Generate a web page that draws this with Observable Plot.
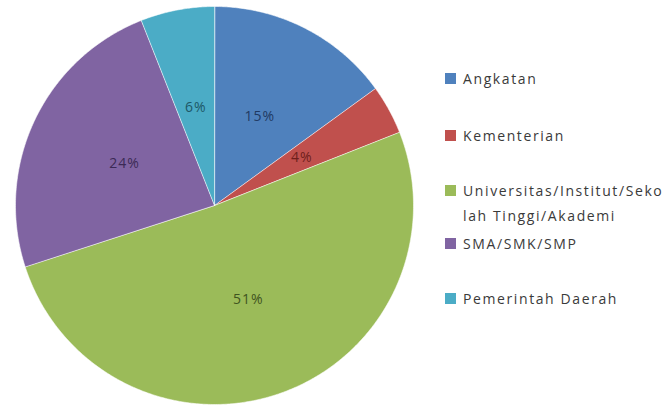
<!DOCTYPE html>
<html>
<head>
<meta charset="utf-8">
<script src="https://cdn.jsdelivr.net/npm/d3@7"></script>
<script src="https://cdn.jsdelivr.net/npm/@observablehq/plot@0.6"></script>
<style>
  html, body { margin: 0; padding: 0; background: #fff; }
  #wrap { position: relative; width: 670px; height: 406px; overflow: hidden; }
  #wrap svg text { letter-spacing: 1px; }
  #legend { position: absolute; left: 445px; top: 0; font-family: "Open Sans", sans-serif; font-size: 14px; color: #3a3a3a; }
  .item { position: absolute; left: 0; white-space: pre; line-height: 25px; letter-spacing: 1.6px; }
  .sw { position: absolute; left: 0; top: 7px; width: 11px; height: 11px; }
  .tx { position: absolute; left: 18px; top: 0; }
</style>
</head>
<body>
<div id="wrap"><div id="legend"></div></div>
<script>
// ---- data ----
const categories = ["Angkatan", "Kementerian", "Universitas/Institut/Sekolah Tinggi/Akademi", "SMA/SMK/SMP", "Pemerintah Daerah"];
const values = [15, 4, 51, 24, 6];
const valueLabels = ["15%", "4%", "51%", "24%", "6%"];
const legendLabels = ["Angkatan", "Kementerian", "Universitas/Institut/Seko\nlah Tinggi/Akademi", "SMA/SMK/SMP", "Pemerintah Daerah"];

// ---- styles ----
const sliceColors = ["#4f81bd", "#c0504d", "#9bbb59", "#8064a2", "#4bacc6"];
const labelColors = ["#1f3a63", "#6e1f1c", "#3f5420", "#3b2a55", "#1d5866"];
const legendTops = [65.5, 122.5, 177.5, 230.5, 285.5];

// ---- pie geometry from data ----
const arcs = d3.pie().sort(null).value(d => d.value)(
  categories.map((c, i) => ({category: c, value: values[i], label: valueLabels[i], i}))
);
const pt = (a, r) => [r * Math.sin(a), -r * Math.cos(a)];
const slices = arcs.map(a => {
  const ring = [[0, 0]];
  const n = Math.max(2, Math.ceil((a.endAngle - a.startAngle) / (Math.PI / 360)));
  for (let k = 0; k <= n; k++) ring.push(pt(a.startAngle + (a.endAngle - a.startAngle) * k / n, 1));
  ring.push([0, 0]);
  return {type: "Feature", properties: {i: a.data.i, category: a.data.category}, geometry: {type: "Polygon", coordinates: [ring]}};
});
const labelPts = arcs.map(a => {
  const m = (a.startAngle + a.endAngle) / 2;
  const [x, y] = pt(m, 0.5);
  return {x, y, text: a.data.label, i: a.data.i};
});

const plot = Plot.plot({
  width: 670,
  height: 406,
  marginLeft: 15,
  marginTop: 6,
  marginRight: 257,
  marginBottom: 2,
  projection: {type: "identity", domain: {type: "MultiPoint", coordinates: [[-1, -1], [1, 1]]}},
  style: {background: "#fff"},
  marks: [
    Plot.geo(slices, {fill: d => sliceColors[d.properties.i], stroke: "#ffffff", strokeWidth: 1, strokeOpacity: 0.55}),
    Plot.text(labelPts, {x: "x", y: "y", text: "text", fill: d => labelColors[d.i], fontSize: 14, fontFamily: "Open Sans, sans-serif"})
  ]
});
document.getElementById("wrap").prepend(plot);

const legend = document.getElementById("legend");
categories.forEach((c, i) => {
  const item = document.createElement("div");
  item.className = "item";
  item.style.top = legendTops[i] + "px";
  const sw = document.createElement("div");
  sw.className = "sw";
  sw.style.background = sliceColors[i];
  const tx = document.createElement("div");
  tx.className = "tx";
  tx.textContent = legendLabels[i];
  item.append(sw, tx);
  legend.append(item);
});
</script>
</body>
</html>
